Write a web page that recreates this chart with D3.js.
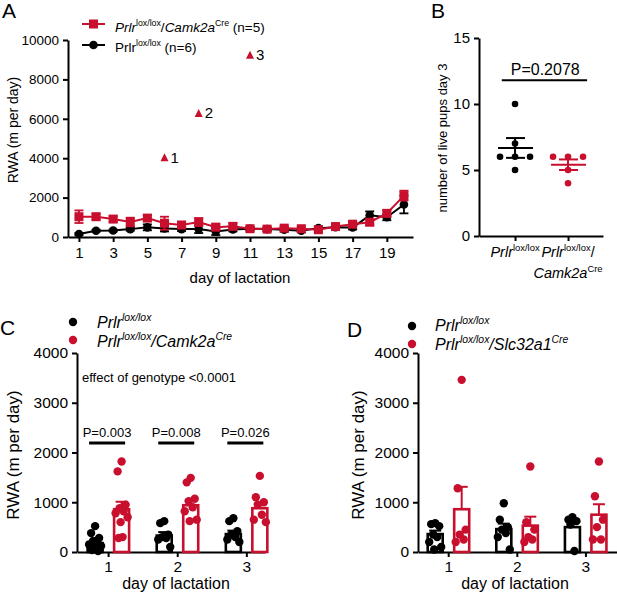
<!DOCTYPE html>
<html>
<head>
<meta charset="utf-8">
<script src="https://cdn.jsdelivr.net/npm/d3@7"></script>
<style>
body { margin: 0; background: #fff; }
svg { display: block; font-family: "Liberation Sans", Arial, sans-serif; }
</style>
</head>
<body>
<svg id="fig" width="617" height="595"></svg>
<script>
// ---- panel A : running wheel activity over lactation ----
var daysA = [1, 2, 3, 4, 5, 6, 7, 8, 9, 10, 11, 12, 13, 14, 15, 16, 17, 18, 19, 20];
var ticksA = [1, 3, 5, 7, 9, 11, 13, 15, 17, 19];
var creMean = [1030, 1030, 910, 760, 960, 700, 610, 760, 500, 540, 420, 400, 450, 420, 370, 530, 650, 750, 1200, 2100];
var creSem = [320, 150, 150, 220, 150, 330, 150, 200, 150, 150, 100, 100, 100, 100, 100, 100, 100, 150, 150, 250];
var ctrlMean = [150, 320, 330, 400, 490, 430, 400, 400, 280, 380, 420, 400, 370, 320, 450, 500, 480, 1100, 1000, 1650];
var ctrlSem = [50, 50, 50, 80, 150, 150, 100, 200, 180, 100, 80, 80, 100, 80, 80, 80, 100, 200, 150, 450];
var spikeDays = [6, 8, 11];
var spikeVals = [4050, 6300, 9250];
var spikeLabels = ["1", "2", "3"];

// ---- panel B : live pups at day 3 ----
var pupsCtrl = [10, 7, 6, 6, 6, 5];
var pupsCre = [6, 6, 6, 5, 4];
var pupsMean = [6.67, 5.4];
var pupsSem = [0.75, 0.4];

// ---- panel C : Camk2a ----
var daysC = [1, 2, 3];
var cCtrlPts = [
  [520, 380, 280, 220, 180, 150, 120, 90, 60, 40, 20],
  [620, 580, 350, 300, 280, 250, 100],
  [680, 620, 420, 350, 300, 250, 200]
];
var cCrePts = [
  [1820, 1620, 950, 880, 820, 780, 700, 600, 300, 280],
  [1490, 1400, 1070, 1020, 900, 820, 650, 620],
  [1530, 1100, 1000, 950, 750, 650, 600]
];
var cCtrlMean = [180, 330, 360];
var cCtrlSem = [45, 70, 70];
var cCreMean = [860, 940, 880];
var cCreSem = [150, 100, 100];
var cPvals = ["P=0.003", "P=0.008", "P=0.026"];

// ---- panel D : Slc32a1 ----
var dCtrlPts = [
  [580, 560, 520, 350, 300, 200, 100, 50],
  [980, 650, 500, 450, 380, 300, 50],
  [700, 650, 620, 550, 20]
];
var dCrePts = [
  [3460, 1280, 450, 350, 250, 200],
  [1720, 600, 450, 300, 250, 200],
  [1820, 1120, 650, 500, 250, 250]
];
var dCtrlMean = [360, 460, 500];
var dCtrlSem = [70, 110, 120];
var dCreMean = [860, 530, 750];
var dCreSem = [450, 180, 210];

var RED = "#c80f2e";
var svg = d3.select("#fig");
var fmt = d3.format("d");

function rich(g, x, y, parts, size, anchor) {
  var t = g.append("text")
    .attr("x", x)
    .attr("y", y)
    .attr("font-size", size)
    .attr("text-anchor", anchor || "start");
  var up = 0;
  parts.forEach(function (p) {
    var st = p[1] || "";
    var s = st.indexOf("s") >= 0 ? 1 : 0;
    var ts = t.append("tspan").text(p[0]);
    if (st.indexOf("i") >= 0) ts.attr("font-style", "italic");
    if (s) ts.attr("font-size", size * 0.65);
    if (s !== up) {
      ts.attr("dy", s ? -size * 0.42 : size * 0.42);
      up = s;
    }
  });
  return t;
}

function styleAxis(g, fs) {
  g.attr("font-family", null).attr("font-size", fs);
  g.select(".domain").attr("stroke-width", 2);
  g.selectAll(".tick line").attr("stroke-width", 2);
  g.selectAll(".tick text").attr("fill", "#000");
}

function letter(t, x, y) {
  svg.append("text").attr("x", x).attr("y", y).attr("font-size", 21).text(t);
}

/*---- panel A ----*/
var xA = d3.scaleLinear().domain([0.36, 20.53]).range([68, 413]);
var yA = d3.scaleLinear().domain([0, 10000]).range([237, 40]);
var gA = svg.append("g");

gA.append("g")
  .attr("transform", "translate(0,237)")
  .call(d3.axisBottom(xA).tickValues(ticksA).tickFormat(fmt).tickSize(5).tickSizeOuter(0).tickPadding(5))
  .call(styleAxis, 15);
gA.append("g")
  .attr("transform", "translate(68,0)")
  .call(d3.axisLeft(yA).tickValues([0, 2000, 4000, 6000, 8000, 10000]).tickFormat(fmt).tickSize(5).tickSizeOuter(0).tickPadding(4))
  .call(styleAxis, 13.5);

function series(mean, sem, color, shape) {
  var pts = daysA.map(function (d, i) { return { d: d, m: mean[i], s: sem[i] }; });
  var g = gA.append("g");
  g.selectAll("line.err").data(pts).enter().append("line")
    .attr("x1", function (p) { return xA(p.d); })
    .attr("x2", function (p) { return xA(p.d); })
    .attr("y1", function (p) { return yA(p.m - p.s); })
    .attr("y2", function (p) { return yA(p.m + p.s); })
    .attr("stroke", color).attr("stroke-width", 1.8);
  [-1, 1].forEach(function (k) {
    g.selectAll(null).data(pts).enter().append("line")
      .attr("x1", function (p) { return xA(p.d) - 4.5; })
      .attr("x2", function (p) { return xA(p.d) + 4.5; })
      .attr("y1", function (p) { return yA(p.m + k * p.s); })
      .attr("y2", function (p) { return yA(p.m + k * p.s); })
      .attr("stroke", color).attr("stroke-width", 1.8);
  });
  g.append("path").datum(pts)
    .attr("fill", "none").attr("stroke", color).attr("stroke-width", 2)
    .attr("d", d3.line().x(function (p) { return xA(p.d); }).y(function (p) { return yA(p.m); }));
  if (shape === "sq") {
    g.selectAll("rect").data(pts).enter().append("rect")
      .attr("x", function (p) { return xA(p.d) - 4.5; })
      .attr("y", function (p) { return yA(p.m) - 4.5; })
      .attr("width", 9).attr("height", 9).attr("fill", color);
  } else {
    g.selectAll("circle").data(pts).enter().append("circle")
      .attr("cx", function (p) { return xA(p.d); })
      .attr("cy", function (p) { return yA(p.m); })
      .attr("r", 4.3).attr("fill", color);
  }
}
series(ctrlMean, ctrlSem, "#000", "ci");
series(creMean, creSem, RED, "sq");

spikeDays.forEach(function (d, i) {
  var cx = xA(d), cy = yA(spikeVals[i]);
  gA.append("path")
    .attr("d", "M" + (cx - 4) + "," + (cy + 4) + "L" + (cx + 4) + "," + (cy + 4) + "L" + cx + "," + (cy - 4) + "Z")
    .attr("fill", RED);
  gA.append("text").attr("x", cx + 6).attr("y", cy + 5.5).attr("font-size", 15).text(spikeLabels[i]);
});

// legend A
gA.append("line").attr("x1", 82).attr("x2", 105).attr("y1", 24).attr("y2", 24).attr("stroke", RED).attr("stroke-width", 2);
gA.append("rect").attr("x", 89).attr("y", 19.5).attr("width", 9).attr("height", 9).attr("fill", RED);
rich(gA, 115, 32, [["Prlr", "i"], ["lox/lox", "s"], ["/", ""], ["Camk2a", "i"], ["Cre", "s"], [" (n=5)", ""]], 13.5);
gA.append("line").attr("x1", 82).attr("x2", 105).attr("y1", 45).attr("y2", 45).attr("stroke", "#000").attr("stroke-width", 2);
gA.append("circle").attr("cx", 93.5).attr("cy", 45).attr("r", 4.3).attr("fill", "#000");
rich(gA, 115, 52, [["Prlr", ""], ["lox/lox", "s"], [" (n=6)", ""]], 13.5);

gA.append("text").attr("transform", "translate(18,130) rotate(-90)")
  .attr("text-anchor", "middle").attr("font-size", 14).text("RWA (m per day)");
gA.append("text").attr("x", 240).attr("y", 283)
  .attr("text-anchor", "middle").attr("font-size", 15).text("day of lactation");
letter("A", 2, 18);

/*---- panel B ----*/
var xB = d3.scaleLinear().domain([0.32, 2.66]).range([479, 603]);
var yB = d3.scaleLinear().domain([0, 15]).range([236, 38]);
var gB = svg.append("g");
gB.append("g")
  .attr("transform", "translate(0,236)")
  .call(d3.axisBottom(xB).tickValues([1, 2]).tickSize(5).tickSizeOuter(0).tickFormat(""))
  .call(styleAxis, 15);
gB.append("g")
  .attr("transform", "translate(479,0)")
  .call(d3.axisLeft(yB).tickValues([0, 5, 10, 15]).tickFormat(fmt).tickSize(5).tickSizeOuter(0).tickPadding(4))
  .call(styleAxis, 15);

function spread(vals) {
  var seen = {};
  var counts = {};
  vals.forEach(function (v) { counts[v] = (counts[v] || 0) + 1; });
  return vals.map(function (v) {
    var k = seen[v] || 0;
    seen[v] = k + 1;
    return { v: v, off: (k - (counts[v] - 1) / 2) * 15 };
  });
}
[pupsCtrl, pupsCre].forEach(function (vals, gi) {
  var col = gi === 0 ? "#000" : RED;
  var cx = xB(gi + 1);
  gB.selectAll(null).data(spread(vals)).enter().append("circle")
    .attr("cx", function (p) { return cx + p.off; })
    .attr("cy", function (p) { return yB(p.v); })
    .attr("r", 3.3).attr("fill", col);
  var m = pupsMean[gi], s = pupsSem[gi];
  gB.append("line").attr("x1", cx - 17).attr("x2", cx + 18).attr("y1", yB(m)).attr("y2", yB(m))
    .attr("stroke", col).attr("stroke-width", 2);
  gB.append("line").attr("x1", cx).attr("x2", cx).attr("y1", yB(m - s)).attr("y2", yB(m + s))
    .attr("stroke", col).attr("stroke-width", 2);
  [-1, 1].forEach(function (k) {
    gB.append("line").attr("x1", cx - 9).attr("x2", cx + 10).attr("y1", yB(m + k * s)).attr("y2", yB(m + k * s))
      .attr("stroke", col).attr("stroke-width", 2);
  });
});
gB.append("line").attr("x1", xB(0.75)).attr("x2", xB(2.36)).attr("y1", yB(11.8)).attr("y2", yB(11.8))
  .attr("stroke", "#000").attr("stroke-width", 2);
gB.append("text").attr("x", xB(1.57)).attr("y", yB(12.2)).attr("text-anchor", "middle")
  .attr("font-size", 16).text("P=0.2078");
rich(gB, xB(1), 257, [["Prlr", "i"], ["lox/lox", "s"]], 14.5, "middle");
rich(gB, xB(2), 257, [["Prlr", "i"], ["lox/lox", "s"], ["/", ""]], 14.5, "middle");
rich(gB, xB(2), 278, [["Camk2a", "i"], ["Cre", "s"]], 14.5, "middle");
gB.append("text").attr("transform", "translate(447,138) rotate(-90)")
  .attr("text-anchor", "middle").attr("font-size", 13).text("number of live pups day 3");
letter("B", 431, 18);

/*---- panels C and D ----*/
var jit = [0, -4, 4, -2, 2, -6, 6, -1, 1, -3, 3];

function barPanel(x0, x1, dom, ctrlPts, crePts, ctrlMean, ctrlSem, creMean, creSem) {
  var x = d3.scaleLinear().domain(dom).range([x0, x1]);
  var y = d3.scaleLinear().domain([0, 4000]).range([552, 353]);
  var g = svg.append("g");
  g.append("g")
    .attr("transform", "translate(0,552)")
    .call(d3.axisBottom(x).tickValues(daysC).tickFormat(fmt).tickSize(5).tickSizeOuter(0).tickPadding(4))
    .call(styleAxis, 15.5);
  g.append("g")
    .attr("transform", "translate(" + x0 + ",0)")
    .call(d3.axisLeft(y).tickValues([0, 1000, 2000, 3000, 4000]).tickFormat(fmt).tickSize(5).tickSizeOuter(0).tickPadding(4))
    .call(styleAxis, 15.5);

  [[ctrlPts, ctrlMean, ctrlSem, "#000", -13], [crePts, creMean, creSem, RED, 13.5]].forEach(function (grp) {
    var col = grp[3], dx = grp[4];
    daysC.forEach(function (d, i) {
      var cx = x(d) + dx;
      var m = grp[1][i], s = grp[2][i];
      g.append("line").attr("x1", cx).attr("x2", cx).attr("y1", y(m)).attr("y2", y(m + s))
        .attr("stroke", col).attr("stroke-width", 2);
      g.append("line").attr("x1", cx - 6).attr("x2", cx + 6).attr("y1", y(m + s)).attr("y2", y(m + s))
        .attr("stroke", col).attr("stroke-width", 2);
      g.append("rect").attr("x", cx - 7.5).attr("y", y(m)).attr("width", 15).attr("height", y(0) - y(m))
        .attr("fill", "#fff").attr("fill-opacity", 0).attr("stroke", col).attr("stroke-width", 2.6);
      g.selectAll(null).data(grp[0][i]).enter().append("circle")
        .attr("cx", function (v, k) { return cx + jit[k % jit.length]; })
        .attr("cy", function (v) { return y(v); })
        .attr("r", 4.2).attr("fill", col);
    });
  });
  return { g: g, x: x, y: y };
}

var pc = barPanel(77, 265, [0.55, 3.27], cCtrlPts, cCrePts, cCtrlMean, cCtrlSem, cCreMean, cCreSem);
daysC.forEach(function (d, i) {
  pc.g.append("line").attr("x1", pc.x(d) - 19).attr("x2", pc.x(d) + 17)
    .attr("y1", pc.y(2190)).attr("y2", pc.y(2190)).attr("stroke", "#000").attr("stroke-width", 3);
  pc.g.append("text").attr("x", pc.x(d) - 1).attr("y", pc.y(2310)).attr("text-anchor", "middle")
    .attr("font-size", 13).text(cPvals[i]);
});
pc.g.append("text").attr("x", 82).attr("y", pc.y(3420)).attr("font-size", 13).text("effect of genotype <0.0001");
pc.g.append("circle").attr("cx", 73).attr("cy", 322).attr("r", 4.2).attr("fill", "#000");
pc.g.append("circle").attr("cx", 73).attr("cy", 340).attr("r", 4.2).attr("fill", RED);
rich(pc.g, 97, 328, [["Prlr", "i"], ["lox/lox", "is"]], 16);
rich(pc.g, 97, 347, [["Prlr", "i"], ["lox/lox", "is"], ["/Camk2a", "i"], ["Cre", "is"]], 16);
pc.g.append("text").attr("transform", "translate(19,455) rotate(-90)")
  .attr("text-anchor", "middle").attr("font-size", 17).text("RWA (m per day)");
pc.g.append("text").attr("x", 176).attr("y", 589).attr("text-anchor", "middle")
  .attr("font-size", 16).text("day of lactation");
letter("C", 0, 335);

var pd = barPanel(418, 617, [0.56, 3.46], dCtrlPts, dCrePts, dCtrlMean, dCtrlSem, dCreMean, dCreSem);
pd.g.append("circle").attr("cx", 412).attr("cy", 326).attr("r", 4.2).attr("fill", "#000");
pd.g.append("circle").attr("cx", 412).attr("cy", 344).attr("r", 4.2).attr("fill", RED);
rich(pd.g, 435, 331, [["Prlr", "i"], ["lox/lox", "is"]], 16);
rich(pd.g, 435, 350, [["Prlr", "i"], ["lox/lox", "is"], ["/Slc32a1", "i"], ["Cre", "is"]], 16);
pd.g.append("text").attr("transform", "translate(364,455) rotate(-90)")
  .attr("text-anchor", "middle").attr("font-size", 17).text("RWA (m per day)");
pd.g.append("text").attr("x", 515).attr("y", 589).attr("text-anchor", "middle")
  .attr("font-size", 16).text("day of lactation");
letter("D", 347, 337);
</script>
</body>
</html>
